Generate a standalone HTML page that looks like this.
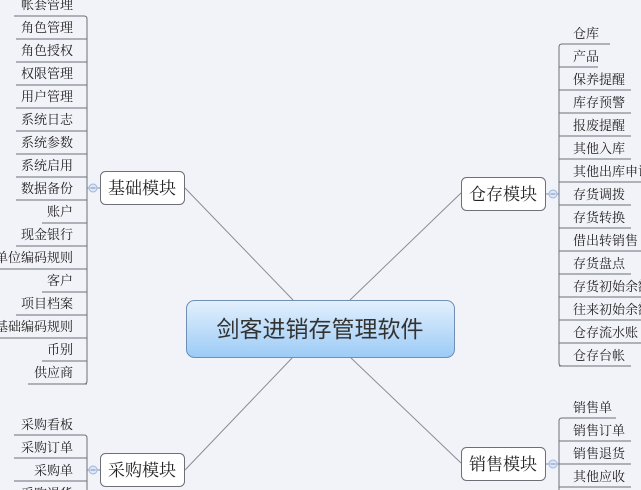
<!DOCTYPE html>
<html><head><meta charset="utf-8"><style>
html,body{margin:0;padding:0;background:#f2f3f8;}
svg{display:block;font-family:"Liberation Sans","Noto Sans CJK SC",sans-serif;}
.t{font-size:13px;fill:#222;font-family:"Liberation Serif","Noto Serif CJK SC",serif;}
.m{font-size:17px;fill:#222;font-family:"Liberation Serif","Noto Serif CJK SC",serif;}
</style></head><body>
<svg width="641" height="490" viewBox="0 0 641 490" xmlns="http://www.w3.org/2000/svg">
<defs><linearGradient id="g" x1="0" y1="0" x2="0" y2="1"><stop offset="0" stop-color="#e3f0fd"/><stop offset="1" stop-color="#9ccbf6"/></linearGradient></defs>
<g stroke="#8a8d96" stroke-width="1" fill="none">
<line x1="293" y1="300" x2="185" y2="188"/>
<line x1="350" y1="300" x2="461" y2="193"/>
<line x1="293" y1="357" x2="185" y2="470"/>
<line x1="350" y1="357" x2="461" y2="463"/>
<line x1="87" y1="188" x2="100" y2="188"/>
<line x1="546" y1="194" x2="559" y2="194"/>
<line x1="87" y1="470" x2="100" y2="470"/>
<line x1="546" y1="464" x2="559" y2="464"/>
</g>
<g stroke="#6c6f78" stroke-width="1" fill="none">
<path d="M14 16 H84 Q87 16 87 19 V381 Q87 384 84 384"/>
<path d="M16 39H87M16 62H87M16 85H87M16 108H87M16 131H87M16 154H87M16 177H87M16 200H87M42 223H87M16 246H87M0 269H87M42 292H87M16 315H87M0 338H87M42 361H87M28 384H87"/>
<path d="M610 44 H562 Q559 44 559 47 V363 Q559 366 562 366"/>
<path d="M559 67H598M559 90H631M559 113H631M559 136H631M559 159H631M559 182H641M559 205H631M559 228H631M559 251H641M559 274H631M559 297H641M559 320H641M559 343H641M559 366H631"/>
<path d="M616 418 H562 Q559 418 559 421 V490"/>
<path d="M559 441H631M559 464H631M559 487H631"/>
<path d="M14 435 H84 Q87 435 87 438 V490"/>
<path d="M14 458H87M14 481H87"/>
</g>
<g fill="#dce8fa" stroke="#9bb5dc">
<circle cx="93" cy="188" r="4"/><circle cx="553" cy="194" r="4"/>
<circle cx="93" cy="470" r="4"/><circle cx="553" cy="464" r="4"/>
</g>
<g stroke="#7a90b8" stroke-width="1">
<line x1="90.5" y1="188" x2="95.5" y2="188"/><line x1="550.5" y1="194" x2="555.5" y2="194"/>
<line x1="90.5" y1="470" x2="95.5" y2="470"/><line x1="550.5" y1="464" x2="555.5" y2="464"/>
</g>
<g fill="#fff" stroke="#6d7078">
<rect x="100.5" y="171.5" width="84" height="33" rx="5"/>
<rect x="461.5" y="177.5" width="84" height="33" rx="5"/>
<rect x="100.5" y="453.5" width="84" height="33" rx="5"/>
<rect x="461.5" y="447.5" width="84" height="33" rx="5"/>
</g>
<rect x="186.5" y="300.5" width="268" height="57" rx="8" fill="url(#g)" stroke="#6f8fb5"/>
<text x="320" y="337" text-anchor="middle" style="font-size:23px;fill:#333">剑客进销存管理软件</text>
<text class="m" x="142" y="194" text-anchor="middle">基础模块</text>
<text class="m" x="503" y="200" text-anchor="middle">仓存模块</text>
<text class="m" x="142" y="476" text-anchor="middle">采购模块</text>
<text class="m" x="503" y="470" text-anchor="middle">销售模块</text>
<g class="t" text-anchor="end">
<text x="73" y="9">帐套管理</text>
<text x="73" y="32">角色管理</text>
<text x="73" y="55">角色授权</text>
<text x="73" y="78">权限管理</text>
<text x="73" y="101">用户管理</text>
<text x="73" y="124">系统日志</text>
<text x="73" y="147">系统参数</text>
<text x="73" y="170">系统启用</text>
<text x="73" y="193">数据备份</text>
<text x="73" y="216">账户</text>
<text x="73" y="239">现金银行</text>
<text x="73" y="262">单位编码规则</text>
<text x="73" y="285">客户</text>
<text x="73" y="308">项目档案</text>
<text x="73" y="331">基础编码规则</text>
<text x="73" y="354">币别</text>
<text x="73" y="377">供应商</text>
<text x="73" y="429">采购看板</text>
<text x="73" y="452">采购订单</text>
<text x="73" y="475">采购单</text>
<text x="73" y="498">采购退货</text>
</g>
<g class="t">
<text x="573" y="38">仓库</text>
<text x="573" y="61">产品</text>
<text x="573" y="84">保养提醒</text>
<text x="573" y="107">库存预警</text>
<text x="573" y="130">报废提醒</text>
<text x="573" y="153">其他入库</text>
<text x="573" y="176">其他出库申请</text>
<text x="573" y="199">存货调拨</text>
<text x="573" y="222">存货转换</text>
<text x="573" y="245">借出转销售</text>
<text x="573" y="268">存货盘点</text>
<text x="573" y="291">存货初始余额</text>
<text x="573" y="314">往来初始余额</text>
<text x="573" y="337">仓存流水账</text>
<text x="573" y="360">仓存台帐</text>
<text x="573" y="412">销售单</text>
<text x="573" y="435">销售订单</text>
<text x="573" y="458">销售退货</text>
<text x="573" y="481">其他应收</text>
</g>
</svg>
</body></html>
